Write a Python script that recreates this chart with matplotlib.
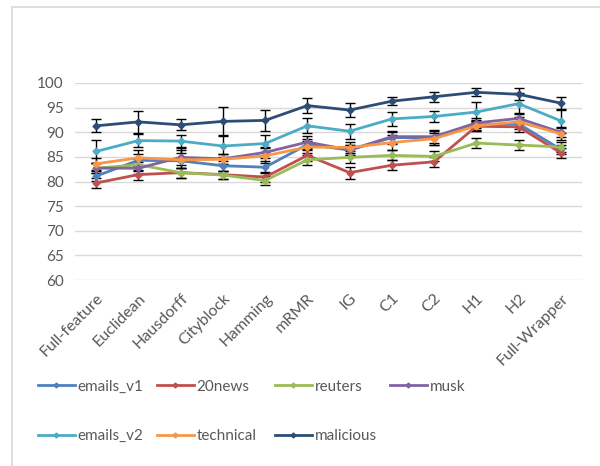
import matplotlib.pyplot as plt
from matplotlib.lines import Line2D
from matplotlib.patches import Rectangle

methods = ["Full-feature", "Euclidean", "Hausdorff", "Cityblock", "Hamming", "mRMR",
           "IG", "C1", "C2", "H1", "H2", "Full-Wrapper"]

emails_v1 = [81.1, 84.3, 84.2, 83.2, 82.9, 87.5, 86.4, 88.9, 88.9, 91.5, 91.7, 86.5]
news20 = [79.7, 81.4, 81.8, 81.4, 80.9, 85.3, 81.8, 83.3, 84.0, 91.2, 91.1, 85.8]
reuters = [82.7, 83.4, 81.8, 81.3, 80.2, 84.4, 84.9, 85.3, 85.1, 87.8, 87.4, 87.0]
musk = [82.7, 82.7, 84.9, 84.6, 85.9, 88.0, 86.4, 89.1, 89.1, 91.9, 92.8, 90.0]
emails_v2 = [86.1, 88.3, 88.2, 87.2, 87.7, 91.3, 90.2, 92.7, 93.2, 94.1, 95.8, 92.3]
technical = [83.6, 84.8, 84.4, 84.5, 85.2, 87.0, 86.9, 87.9, 88.7, 91.3, 92.1, 89.7]
malicious = [91.3, 92.1, 91.5, 92.2, 92.4, 95.4, 94.5, 96.3, 97.2, 98.1, 97.7, 95.9]

err_emails_v1 = [1.0, 1.2, 1.5, 1.0, 1.2, 1.2, 1.0, 1.2, 1.5, 1.0, 1.0, 1.0]
err_news20 = [1.0, 1.0, 1.0, 0.8, 1.0, 1.2, 1.2, 1.0, 1.0, 1.0, 1.0, 1.0]
err_reuters = [1.0, 1.2, 1.0, 0.8, 1.0, 1.0, 1.2, 1.0, 1.0, 1.0, 1.0, 1.0]
err_musk = [1.0, 1.2, 1.5, 1.0, 1.2, 1.2, 1.0, 1.2, 1.2, 1.0, 1.2, 1.0]
err_emails_v2 = [2.4, 1.3, 1.2, 2.2, 1.8, 1.5, 1.5, 1.5, 1.2, 2.0, 2.2, 2.5]
err_technical = [1.2, 1.5, 2.5, 1.0, 1.5, 1.2, 1.2, 1.5, 1.2, 1.0, 1.0, 1.2]
err_malicious = [1.3, 2.3, 1.1, 2.9, 2.1, 1.5, 1.5, 0.8, 1.0, 0.8, 1.2, 1.3]

series = [
    ("emails_v1", emails_v1, err_emails_v1, "#4F81BD"),
    ("20news", news20, err_news20, "#C0504D"),
    ("reuters", reuters, err_reuters, "#9BBB59"),
    ("musk", musk, err_musk, "#8064A2"),
    ("emails_v2", emails_v2, err_emails_v2, "#4BACC6"),
    ("technical", technical, err_technical, "#F79646"),
    ("malicious", malicious, err_malicious, "#2C4D75"),
]

plt.rcParams["font.family"] = ["Lato", "DejaVu Sans"]

fig = plt.figure(figsize=(6, 4.66), dpi=100)
fig.patches.append(Rectangle((12 / 600, -0.1), 1.2, 1 - 7 / 466 + 0.1,
                             transform=fig.transFigure, fill=False,
                             edgecolor="#D9D9D9", linewidth=1.2))

ax = fig.add_axes([0.125, 0.399, 0.845, 0.423])
x = list(range(len(methods)))
handles = {}
for name, vals, errs, color in series:
    ax.errorbar(x, vals, yerr=errs, color=color, linewidth=2,
                marker="D", markersize=3.5, ecolor="black", elinewidth=1,
                capsize=3.5, capthick=1)
    handles[name] = Line2D([], [], color=color, linewidth=2, marker="D",
                           markersize=2.5)

ax.set_xlim(-0.5, len(methods) - 0.5)
ax.set_ylim(60, 100)
ax.set_yticks(range(60, 101, 5))
ax.grid(axis="y", color="#D9D9D9", linewidth=1)
ax.set_axisbelow(True)
for s in ax.spines.values():
    s.set_visible(False)
ax.tick_params(length=0, labelsize=11, colors="#595959", pad=8)
ax.set_xticks(x)
ax.set_xticklabels(methods, rotation=45, ha="right", rotation_mode="anchor",
                   fontsize=11.5)

# Excel legend: equal-width columns, filled row by row
legend_cols = [["emails_v1", "emails_v2"], ["20news", "technical"],
               ["reuters", "malicious"], ["musk"]]
col_x = [38, 157, 275, 390]
for names, px in zip(legend_cols, col_x):
    leg = fig.legend([handles[n] for n in names], names, loc="upper left",
                     bbox_to_anchor=(px / 600, 0.185), frameon=False,
                     fontsize=11, handlelength=2.4, handletextpad=0.2,
                     labelspacing=2.3, labelcolor="#595959",
                     borderpad=0, borderaxespad=0)

fig.savefig("out.png", dpi=100)
